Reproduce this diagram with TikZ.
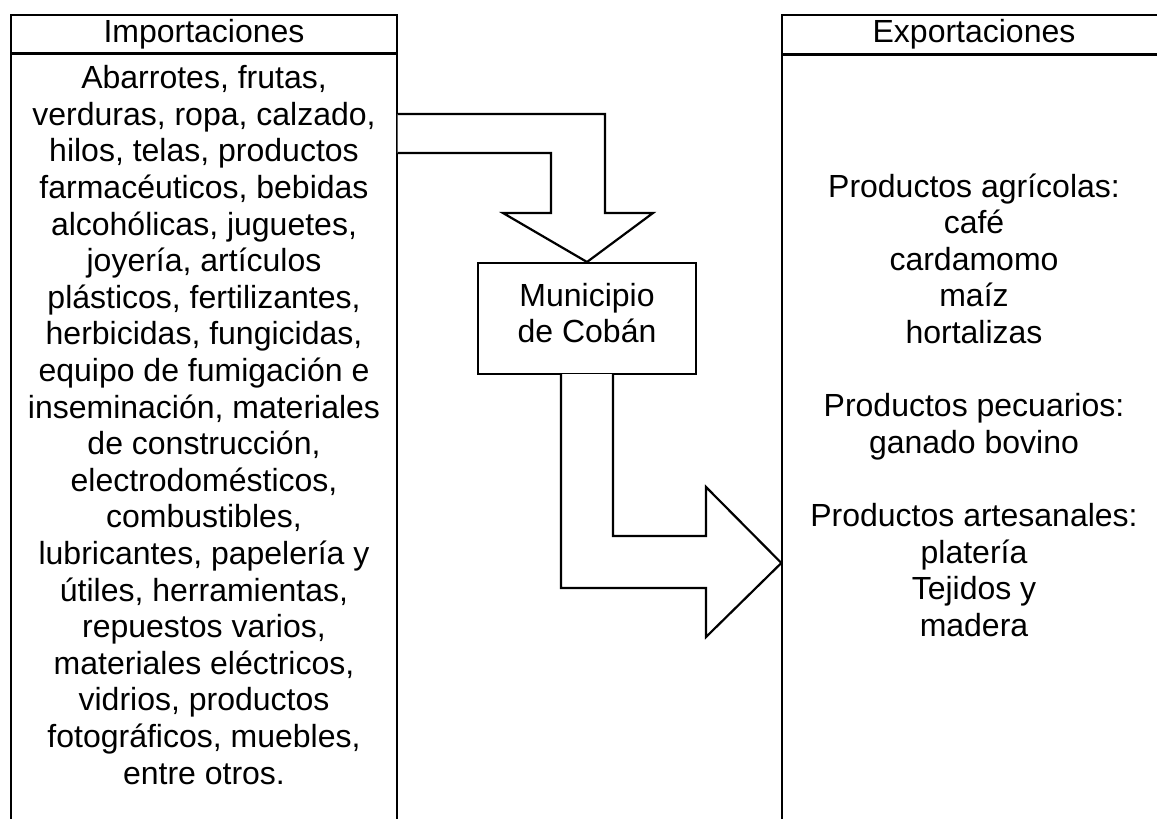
\documentclass[tikz,border=0pt]{standalone}
\usepackage{fontspec}
\setmainfont{Liberation Sans}
\usepackage{tikz}
\usetikzlibrary{arrows.meta}

\begin{document}
\begin{tikzpicture}[x=1pt, y=-1pt,
  frame/.style={rectangle, draw=black, line width=1.3pt, inner sep=0pt},
  txt/.style={align=center, inner sep=0pt, font=\fontsize{32}{36.6}\selectfont},
  blockarrow/.style={draw=black, fill=white, line width=2.2pt, line join=miter}]

\clip (0,0) rectangle (1157,819);
\fill[white] (0,0) rectangle (1157,819);

% importaciones
\node[frame, minimum width=386, minimum height=38] (imphead) at (204,34) {};
\node[frame, minimum width=386, minimum height=800, anchor=north] (impbody) at (imphead.south) {};
\node[txt] (imptitle) at (imphead.center) {Importaciones};
\node[txt] (implist) at (204,425) {Abarrotes, frutas,\\ verduras, ropa, calzado,\\ hilos, telas, productos\\
farmacéuticos, bebidas\\ alcohólicas, juguetes,\\ joyería, artículos\\ plásticos, fertilizantes,\\
herbicidas, fungicidas,\\ equipo de fumigación e\\ inseminación, materiales\\ de construcción,\\
electrodomésticos,\\ combustibles,\\ lubricantes, papelería y\\ útiles, herramientas,\\
repuestos varios,\\ materiales eléctricos,\\ vidrios, productos\\ fotográficos, muebles,\\ entre otros.};

% exportaciones
\node[frame, minimum width=384, minimum height=39] (exphead) at (974,34.5) {};
\node[frame, minimum width=384, minimum height=800, anchor=north] (expbody) at (exphead.south) {};
\node[txt] (exptitle) at (exphead.center) {Exportaciones};
\node[txt] (explist) at (974,405) {Productos agrícolas:\\ café\\ cardamomo\\ maíz\\ hortalizas\\[36.6pt]
Productos pecuarios:\\ ganado bovino\\[36.6pt] Productos artesanales:\\ platería\\ Tejidos y\\ madera};

% municipio
\node[frame, line width=2pt, minimum width=218, minimum height=111] (muni) at (587,318.5) {};
\node[txt] (munitext) at (587,313) {Municipio\\ de Cobán};

\coordinate (exptip) at (expbody.west |- 0,563);

% flechas
\draw[blockarrow] (impbody.east |- 0,114) -- (605,114) -- (605,213) -- (653,213) -- (muni.north)
  -- (503,213) -- (551,213) -- (551,153) -- (impbody.east |- 0,153);
\draw[blockarrow] (561,374) -- (561,588) -- (706,588) -- (706,637) -- (exptip)
  -- (706,487) -- (706,536) -- (613,536) -- (613,374);

\end{tikzpicture}
\end{document}
